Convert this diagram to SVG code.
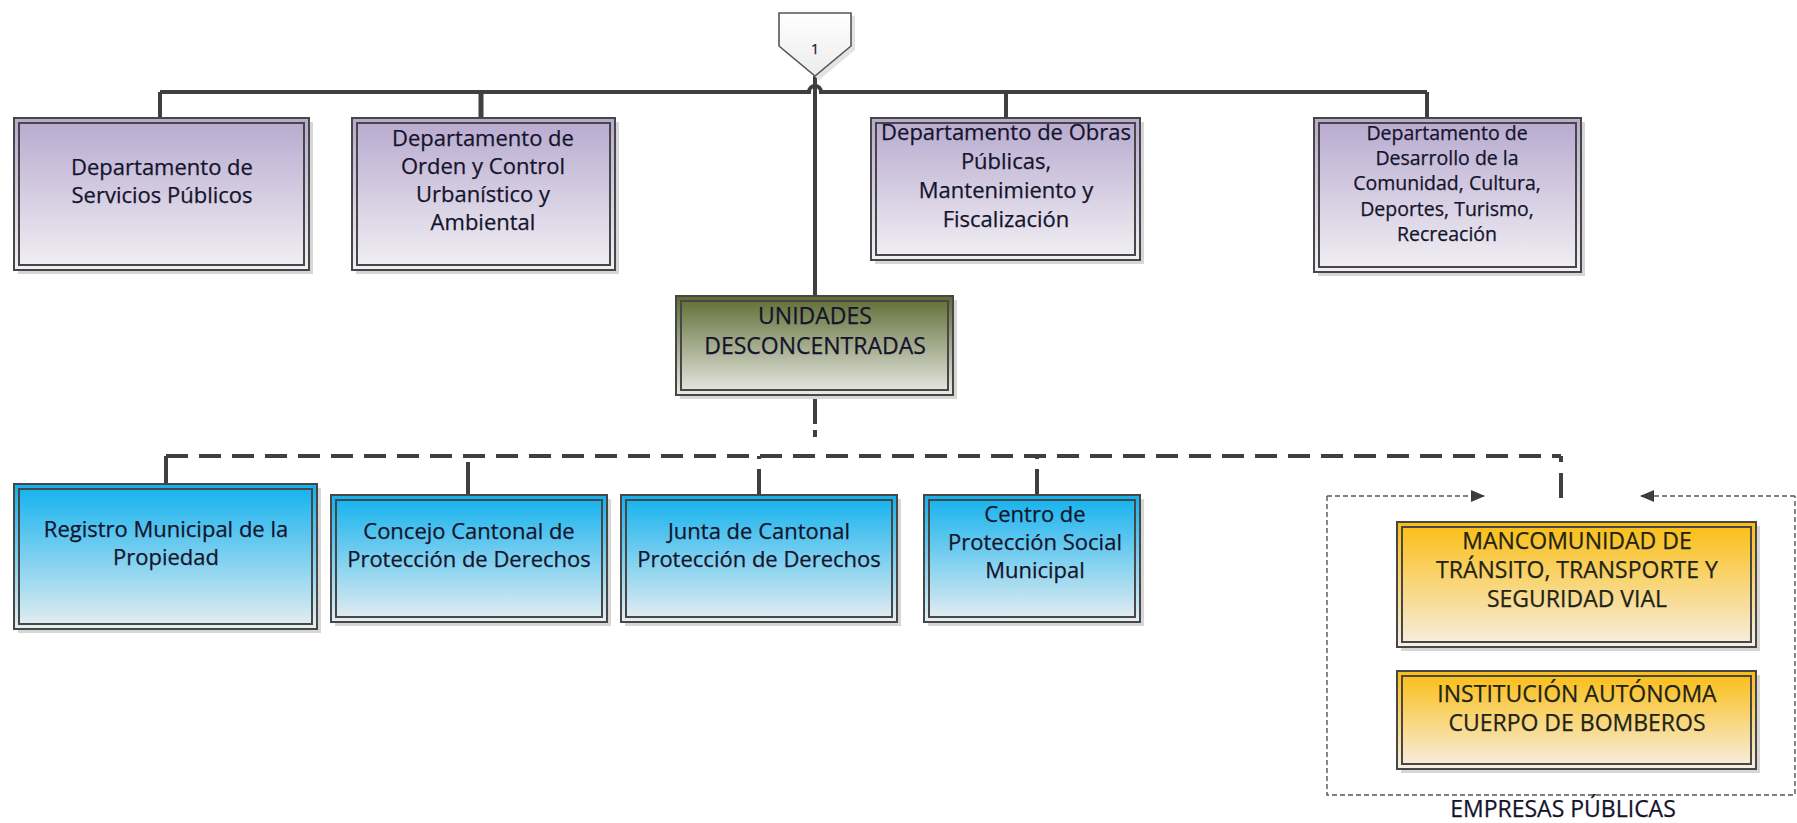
<svg xmlns="http://www.w3.org/2000/svg" width="1797" height="823" viewBox="0 0 1797 823">
  <defs>
    <linearGradient id="gPurple" x1="0" y1="0" x2="0" y2="1">
      <stop offset="0" stop-color="#b7a9cf"/>
      <stop offset="1" stop-color="#f2f0f4"/>
    </linearGradient>
    <linearGradient id="gOlive" x1="0" y1="0" x2="0" y2="1">
      <stop offset="0" stop-color="#5e6c32"/>
      <stop offset="1" stop-color="#eaeae6"/>
    </linearGradient>
    <linearGradient id="gBlue" x1="0" y1="0" x2="0" y2="1">
      <stop offset="0" stop-color="#10b1ee"/>
      <stop offset="1" stop-color="#e8eef1"/>
    </linearGradient>
    <linearGradient id="gOrange" x1="0" y1="0" x2="0" y2="1">
      <stop offset="0" stop-color="#fbbd10"/>
      <stop offset="1" stop-color="#f6efe4"/>
    </linearGradient>
    <linearGradient id="gTab" x1="0" y1="0" x2="0" y2="1">
      <stop offset="0" stop-color="#ffffff"/>
      <stop offset="1" stop-color="#ececec"/>
    </linearGradient>
    <marker id="arrow" viewBox="0 0 14 12" refX="13" refY="6" markerWidth="14" markerHeight="12" markerUnits="userSpaceOnUse" orient="auto">
      <path d="M0,0 L14,6 L0,12 Z" fill="#3c3c3c"/>
    </marker>
    <style>
      .shadow { fill: #d6d6d6; }
      .outer { stroke: #474747; stroke-width: 2; }
      .inner { fill: none; stroke: #474747; stroke-width: 2; }
      .lbl { font-family: "Open Sans", "Liberation Sans", sans-serif; fill: #14142c; stroke: #14142c; stroke-width: 0.25; text-anchor: middle; }
      .t22 { font-size: 22px; }
      .t20 { font-size: 19.5px; }
      .t23 { font-size: 23px; }
      .warm { fill: #1e2416; stroke: #1e2416; }
      .link { fill: none; stroke: #3f3f3f; stroke-width: 4; }
      .dash { fill: none; stroke: #3f3f3f; stroke-width: 4; stroke-dasharray: 22 11; }
      .thin { fill: none; stroke: #555555; stroke-width: 1.4; stroke-dasharray: 5 3; }
    </style>
  </defs>

  <rect width="1797" height="823" fill="#ffffff"/>

  <!-- connectors -->
  <g id="connectors">
    <!-- upper tree -->
    <path class="link" d="M160,92 H809 A6,6 0 0 1 821,92 H1427"/>
    <path class="link" d="M815,76 V296"/>
    <path class="link" d="M160,92 V118"/>
    <path class="link" d="M481,92 V118" style="stroke-width:5"/>
    <path class="link" d="M1006,92 V118"/>
    <path class="link" d="M1427,92 V118"/>
    <!-- lower tree -->
    <path class="link" d="M815,395 V424 M815,430 V437"/>
    <path class="dash" d="M166,456 H1561"/>
    <path class="link" d="M166,456 V484"/>
    <path class="link" d="M468,462 V495"/>
    <path class="dash" d="M759,495 V456" style="stroke-dasharray:26 10"/>
    <path class="dash" d="M1037,495 V456" style="stroke-dasharray:26 10"/>
    <path class="link" d="M1561,456 V462 M1561,473 V498"/>
    <!-- grouping frame -->
    <path class="thin" d="M1327,496 V795 H1795 V496"/>
    <path class="thin" d="M1327,496 H1484" marker-end="url(#arrow)"/>
    <path class="thin" d="M1795,496 H1641" marker-end="url(#arrow)"/>
  </g>

  <!-- off-page reference -->
  <g id="ref1">
    <path d="M782,16 H855 V50 L819,80 L782,50 Z" fill="#e3e3e3"/>
    <path d="M779,13 H851 V46 L815,76 L779,46 Z" fill="url(#gTab)" stroke="#555555" stroke-width="1.6"/>
    <text x="815" y="54" class="lbl" style="font-size:14px">1</text>
  </g>

  <!-- departments -->
  <g id="dep-servicios">
    <rect class="shadow" x="18" y="122" width="295" height="152"/>
    <rect class="outer" x="14" y="118" width="295" height="152" fill="url(#gPurple)"/>
    <rect class="inner" x="19" y="123" width="285" height="142"/>
    <text class="lbl t22" x="162" y="175">Departamento de</text>
    <text class="lbl t22" x="162" y="203">Servicios Públicos</text>
  </g>

  <g id="dep-orden">
    <rect class="shadow" x="356" y="122" width="263" height="152"/>
    <rect class="outer" x="352" y="118" width="263" height="152" fill="url(#gPurple)"/>
    <rect class="inner" x="357" y="123" width="253" height="142"/>
    <text class="lbl t22" x="483" y="146">Departamento de</text>
    <text class="lbl t22" x="483" y="174">Orden y Control</text>
    <text class="lbl t22" x="483" y="202">Urbanístico y</text>
    <text class="lbl t22" x="483" y="230">Ambiental</text>
  </g>

  <g id="dep-obras">
    <rect class="shadow" x="875" y="122" width="269" height="142"/>
    <rect class="outer" x="871" y="118" width="269" height="142" fill="url(#gPurple)"/>
    <rect class="inner" x="876" y="123" width="259" height="132"/>
    <text class="lbl t22" x="1006" y="140">Departamento de Obras</text>
    <text class="lbl t22" x="1006" y="169">Públicas,</text>
    <text class="lbl t22" x="1006" y="198">Mantenimiento y</text>
    <text class="lbl t22" x="1006" y="227">Fiscalización</text>
  </g>

  <g id="dep-desarrollo">
    <rect class="shadow" x="1318" y="122" width="267" height="154"/>
    <rect class="outer" x="1314" y="118" width="267" height="154" fill="url(#gPurple)"/>
    <rect class="inner" x="1319" y="123" width="257" height="144"/>
    <text class="lbl t20" x="1447" y="140">Departamento de</text>
    <text class="lbl t20" x="1447" y="165">Desarrollo de la</text>
    <text class="lbl t20" x="1447" y="190">Comunidad, Cultura,</text>
    <text class="lbl t20" x="1447" y="216">Deportes, Turismo,</text>
    <text class="lbl t20" x="1447" y="241">Recreación</text>
  </g>

  <!-- decentralised units -->
  <g id="unidades">
    <rect class="shadow" x="680" y="300" width="277" height="99"/>
    <rect class="outer" x="676" y="296" width="277" height="99" fill="url(#gOlive)"/>
    <rect class="inner" x="681" y="301" width="267" height="89"/>
    <text class="lbl t23" x="815" y="324">UNIDADES</text>
    <text class="lbl t23" x="815" y="354">DESCONCENTRADAS</text>
  </g>

  <g id="registro">
    <rect class="shadow" x="18" y="488" width="303" height="145"/>
    <rect class="outer" x="14" y="484" width="303" height="145" fill="url(#gBlue)"/>
    <rect class="inner" x="19" y="489" width="293" height="135"/>
    <text class="lbl t22" x="166" y="537">Registro Municipal de la</text>
    <text class="lbl t22" x="166" y="565">Propiedad</text>
  </g>

  <g id="concejo">
    <rect class="shadow" x="335" y="499" width="276" height="127"/>
    <rect class="outer" x="331" y="495" width="276" height="127" fill="url(#gBlue)"/>
    <rect class="inner" x="336" y="500" width="266" height="117"/>
    <text class="lbl t22" x="469" y="539">Concejo Cantonal de</text>
    <text class="lbl t22" x="469" y="567">Protección de Derechos</text>
  </g>

  <g id="junta">
    <rect class="shadow" x="625" y="499" width="276" height="127"/>
    <rect class="outer" x="621" y="495" width="276" height="127" fill="url(#gBlue)"/>
    <rect class="inner" x="626" y="500" width="266" height="117"/>
    <text class="lbl t22" x="759" y="539">Junta de Cantonal</text>
    <text class="lbl t22" x="759" y="567">Protección de Derechos</text>
  </g>

  <g id="centro">
    <rect class="shadow" x="928" y="499" width="216" height="127"/>
    <rect class="outer" x="924" y="495" width="216" height="127" fill="url(#gBlue)"/>
    <rect class="inner" x="929" y="500" width="206" height="117"/>
    <text class="lbl t22" x="1035" y="522">Centro de</text>
    <text class="lbl t22" x="1035" y="550">Protección Social</text>
    <text class="lbl t22" x="1035" y="578">Municipal</text>
  </g>

  <!-- public enterprises -->
  <g id="mancomunidad">
    <rect class="shadow" x="1401" y="526" width="359" height="125"/>
    <rect class="outer" x="1397" y="522" width="359" height="125" fill="url(#gOrange)"/>
    <rect class="inner" x="1402" y="527" width="349" height="115"/>
    <text class="lbl t23 warm" x="1577" y="549">MANCOMUNIDAD DE</text>
    <text class="lbl t23 warm" x="1577" y="578">TRÁNSITO, TRANSPORTE Y</text>
    <text class="lbl t23 warm" x="1577" y="607">SEGURIDAD VIAL</text>
  </g>

  <g id="bomberos">
    <rect class="shadow" x="1401" y="675" width="359" height="98"/>
    <rect class="outer" x="1397" y="671" width="359" height="98" fill="url(#gOrange)"/>
    <rect class="inner" x="1402" y="676" width="349" height="88"/>
    <text class="lbl t23 warm" x="1577" y="702">INSTITUCIÓN AUTÓNOMA</text>
    <text class="lbl t23 warm" x="1577" y="731">CUERPO DE BOMBEROS</text>
  </g>

  <g id="empresas-label">
    <text class="lbl" x="1563" y="817" style="font-size:23px">EMPRESAS PÚBLICAS</text>
  </g>
</svg>
